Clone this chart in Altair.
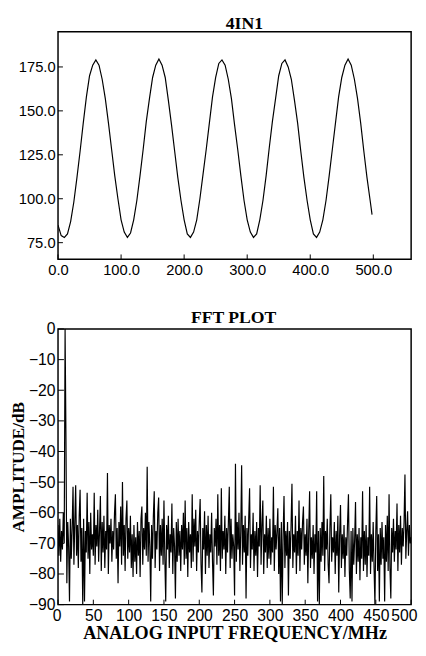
import altair as alt
import pandas as pd

# ---------------- data ----------------
# top panel "4IN1": sampled waveform (x step 5, last sample at 498)
sine_x = list(range(0, 500, 5)) + [498]
sine_v = [85, 79, 78, 80, 87, 98, 112, 127, 143, 158,
          170, 176, 179, 176, 168, 157, 143, 128, 113, 100,
          88, 81, 78, 80.5, 88, 99, 113, 128, 144, 157,
          169, 176, 179.5, 176, 169, 156, 142, 127, 112, 99,
          88, 80, 78, 81, 88, 100, 114, 128, 143, 158,
          169, 177, 179, 176, 168, 157, 142, 128, 113, 99,
          88, 81, 78, 80, 88, 99, 113, 129, 144, 157,
          170, 177, 179, 175, 168, 156, 143, 127, 112, 99,
          88, 80, 78, 81, 88, 99, 113, 128, 143, 158,
          169, 176, 179.5, 176, 168, 157, 143, 127, 112, 99,
          91]
top_xticks = [0, 100, 200, 300, 400, 500]
top_yticks = [75, 100, 125, 150, 175]
top_title = ["4IN1"]

# bottom panel "FFT PLOT": amplitude (dB) per bin, bin width 1.25 MHz
fft_db = [
    -64, -74, -62, -76, -66, -72, -60, -70, 0, -36, -83, -63, -71, -89, -62, -75, -65, -51.5, -77, -63,
    -51, -74, -64, -78, -61, -52.5, -76, -65, -90, -62, -89, -66, -73, -53.5, -75, -63, -80, -60, -72, -67,
    -74, -53.5, -77, -64, -71, -59, -76, -66, -54.5, -79, -63, -73, -61, -78, -66, -72, -47, -80, -64, -70,
    -62, -76, -66, -72, -60, -54, -75, -65, -83, -63, -71, -58, -77, -50, -74, -64, -79, -62, -56, -75,
    -65, -73, -61, -78, -67, -81, -64, -76, -68, -80, -63, -74, -66, -81, -62, -58, -77, -65, -72, -60,
    -74, -45, -76, -63, -71, -89, -64, -75, -61, -53, -78, -66, -72, -60, -55, -79, -64, -74, -62, -77,
    -56, -75, -89, -64, -72, -61, -78, -67, -73, -57, -80, -65, -71, -88, -63, -76, -62, -74, -66, -79,
    -64, -72, -60, -77, -56, -75, -65, -81, -63, -73, -67, -78, -54, -76, -62, -71, -59, -79, -66, -73,
    -63, -55.5, -77, -86, -65, -72, -59.5, -80, -64, -74, -61, -78, -67, -73, -60, -76, -87, -65, -71, -62,
    -77, -54, -74, -64, -79, -52, -75, -66, -72, -61, -80, -65, -73, -63, -51.5, -78, -62, -75, -67, -71,
    -87, -44, -76, -63, -72, -60, -79, -66, -44.5, -77, -64, -73, -61, -88, -65, -74, -62, -52, -78, -67,
    -72, -60, -79, -66, -74, -63, -81, -65, -71, -51, -77, -64, -56, -80, -67, -73, -61, -78, -65, -75,
    -62, -77, -68, -73, -51.5, -79, -64, -72, -66, -58.5, -80, -65, -89, -63, -90, -67, -54.5, -78, -66, -74,
    -63, -87, -66, -75, -64, -50.5, -78, -67, -73, -61, -80, -66, -74, -56, -79, -65, -72, -63, -58, -77,
    -67, -74, -62, -83, -66, -53, -78, -68, -75, -64, -80, -67, -73, -53, -89, -66, -90, -65, -76, -63,
    -74, -48, -79, -66, -72, -62, -77, -83, -65, -54, -76, -68, -73, -63, -80, -66, -74, -61, -86, -67,
    -57.5, -78, -67, -75, -64, -81, -68, -74, -63, -54, -79, -88, -66, -89, -65, -77, -69, -56.5, -80, -67,
    -76, -65, -82, -68, -75, -53, -79, -66, -77, -64, -81, -68, -74, -51.5, -80, -67, -76, -63, -78, -90,
    -66, -54.5, -79, -67, -89, -65, -77, -63, -75, -68, -89, -64, -76, -61, -79, -54, -78, -88, -65, -73,
    -62, -76, -66, -72, -57, -79, -64, -73, -61, -77, -65, -71, -63, -47.5, -75, -66, -59.5, -74, -64, -70,
    -68,
]
bin_mhz = 1.25
fft_f = [i * bin_mhz for i in range(len(fft_db))]
fft_xticks = [0, 50, 100, 150, 200, 250, 300, 350, 400, 450, 500]
fft_yticks = [-90, -80, -70, -60, -50, -40, -30, -20, -10, 0]
fft_title = ["FFT PLOT"]

top_df = pd.DataFrame({"t": sine_x, "v": sine_v})
fft_df = pd.DataFrame({"f": fft_f, "db": fft_db})

W = 360
H1 = 232
H2 = 281
SANS = "Liberation Sans"
SERIF = "Liberation Serif"

# ---------------- top panel ----------------
top_xscale = alt.Scale(domain=[0, 560], nice=False, zero=False)
top_yscale = alt.Scale(domain=[65.5, 195], nice=False, zero=False)
top_xaxis = alt.Axis(values=top_xticks, format=".1f", title=None, domain=False, ticks=False,
                     tickSize=0, grid=False, labelFlush=False, labelOverlap=False,
                     labelPadding=3, labelFont=SANS, labelFontSize=15, labelColor="black")
top_yaxis = alt.Axis(values=top_yticks, format=".1f", title=None, domain=False, ticks=False,
                     tickSize=0, grid=False, labelOverlap=False, labelPadding=3,
                     labelFont=SANS, labelFontSize=15, labelColor="black")

top_line = alt.Chart(top_df).mark_line(color="black", strokeWidth=1.2, clip=True).encode(
    x=alt.X("t:Q", scale=top_xscale, axis=top_xaxis, title=None),
    y=alt.Y("v:Q", scale=top_yscale, axis=top_yaxis, title=None),
)
top_xt = alt.Chart(pd.DataFrame({"t": top_xticks})).mark_rule(color="black", strokeWidth=1).encode(
    x=alt.X("t:Q", scale=top_xscale, axis=top_xaxis, title=None),
    y=alt.value(H1), y2=alt.value(H1 - 5))
top_yt = alt.Chart(pd.DataFrame({"v": top_yticks})).mark_rule(color="black", strokeWidth=1).encode(
    y=alt.Y("v:Q", scale=top_yscale, axis=top_yaxis, title=None),
    x=alt.value(0), x2=alt.value(5))
top_tt = alt.Chart(pd.DataFrame({"label": top_title})).mark_text(
    font=SERIF, fontSize=18, fontWeight="bold", color="black", align="center",
    baseline="alphabetic").encode(text="label:N", x=alt.value(190), y=alt.value(-3))

top = alt.layer(top_line, top_xt, top_yt, top_tt).properties(width=W, height=H1)

# ---------------- bottom panel ----------------
fft_xscale = alt.Scale(domain=[0, 500], nice=False, zero=False)
fft_yscale = alt.Scale(domain=[-90, 0], nice=False, zero=False)
fft_xaxis = alt.Axis(values=fft_xticks, format="d", title="ANALOG INPUT FREQUENCY/MHz",
                     titleFont=SERIF, titleFontSize=18.5, titleFontWeight="bold",
                     titleColor="black", titlePadding=1, domain=False, ticks=False,
                     tickSize=0, grid=False, labelFlush=True, labelFlushOffset=6,
                     labelOverlap=False, labelPadding=3, labelFont=SANS, labelFontSize=16,
                     labelColor="black")
fft_yaxis = alt.Axis(values=fft_yticks, format="d", title="AMPLITUDE/dB",
                     titleFont=SERIF, titleFontSize=17.5, titleFontWeight="bold",
                     titleColor="black", titlePadding=1.5, domain=False, ticks=False,
                     tickSize=0, grid=False, labelOverlap=False, labelPadding=3,
                     labelFont=SANS, labelFontSize=16, labelColor="black")

fft_line = alt.Chart(fft_df).mark_line(color="black", strokeWidth=1.2, clip=True).encode(
    x=alt.X("f:Q", scale=fft_xscale, axis=fft_xaxis, title="ANALOG INPUT FREQUENCY/MHz"),
    y=alt.Y("db:Q", scale=fft_yscale, axis=fft_yaxis, title="AMPLITUDE/dB"),
)
fft_xt = alt.Chart(pd.DataFrame({"f": fft_xticks})).mark_rule(color="black", strokeWidth=1).encode(
    x=alt.X("f:Q", scale=fft_xscale, axis=fft_xaxis, title="ANALOG INPUT FREQUENCY/MHz"),
    y=alt.value(H2), y2=alt.value(H2 - 5))
fft_yt = alt.Chart(pd.DataFrame({"db": fft_yticks})).mark_rule(color="black", strokeWidth=1).encode(
    y=alt.Y("db:Q", scale=fft_yscale, axis=fft_yaxis, title="AMPLITUDE/dB"),
    x=alt.value(0), x2=alt.value(6))
fft_tt = alt.Chart(pd.DataFrame({"label": fft_title})).mark_text(
    font=SERIF, fontSize=18, fontWeight="bold", color="black", align="center",
    baseline="alphabetic").encode(text="label:N", x=alt.value(179), y=alt.value(-6))

bottom = alt.layer(fft_line, fft_xt, fft_yt, fft_tt).properties(width=W, height=H2)

chart = alt.vconcat(top, bottom, spacing=71, bounds="flush").properties(
    padding={"left": 0, "top": 0, "right": 0, "bottom": 0},
).configure_view(stroke="black", strokeWidth=1.5)

chart.save("out.html", embed_options={"renderer": "svg", "actions": False})
